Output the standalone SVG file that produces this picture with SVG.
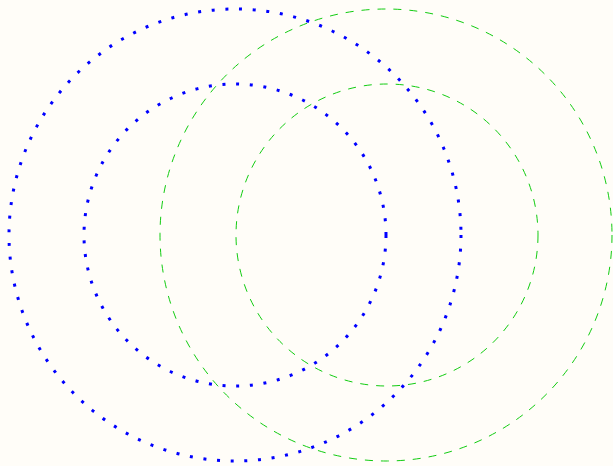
<svg xmlns="http://www.w3.org/2000/svg" width="613" height="466" viewBox="0 0 613 466">
<style>
.blue{fill:none;stroke:#0000ff;stroke-width:3;stroke-dasharray:3 10.7}
.green{fill:none;stroke:#11cc11;stroke-width:1;stroke-dasharray:8 8}
</style>
<rect width="613" height="466" fill="#fffdf8"/>
<g id="blue-outer"><circle class="blue" cx="235" cy="235" r="226"/></g>
<g id="blue-inner"><circle class="blue" cx="235" cy="235" r="151"/></g>
<g id="green-outer"><circle class="green" cx="386" cy="235" r="226"/></g>
<g id="green-inner"><circle class="green" cx="387" cy="235" r="151"/></g>
</svg>
